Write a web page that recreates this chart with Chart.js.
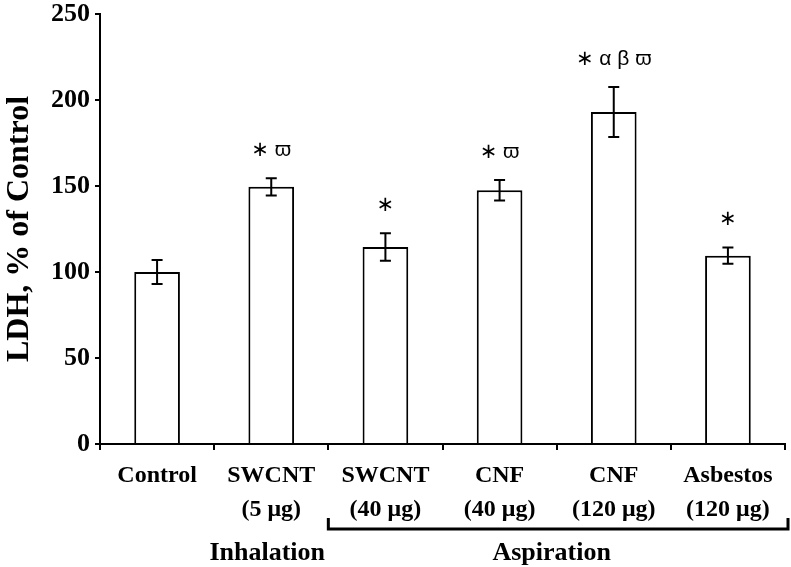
<!DOCTYPE html>
<html>
<head>
<meta charset="utf-8">
<script src="https://cdn.jsdelivr.net/npm/chart.js@4/dist/chart.umd.min.js"></script>
<style>
  html, body { margin: 0; padding: 0; background: #fff; }
  #wrap { width: 791px; height: 567px; }
</style>
</head>
<body>
<div id="wrap"><canvas id="c" width="791" height="567"></canvas></div>
<script>
// ---- data ----
const categories = [
  ["Control"],
  ["SWCNT", "(5 \u03bcg)"],
  ["SWCNT", "(40 \u03bcg)"],
  ["CNF", "(40 \u03bcg)"],
  ["CNF", "(120 \u03bcg)"],
  ["Asbestos", "(120 \u03bcg)"]
];
const ldhValues = [100, 149.5, 114.5, 147.5, 193, 109.5];
const ldhErrors = [7, 5, 8, 6, 14.5, 4.7];
const significance = ["", "\u2217 \u03d6", "\u2217", "\u2217 \u03d6", "\u2217 \u03b1 \u03b2 \u03d6", "\u2217"];
const yTicks = [0, 50, 100, 150, 200, 250];
const groupLabels = ["Inhalation", "Aspiration"];
const groupRanges = [[1, 1], [2, 5]]; // category index ranges
const yTitle = "LDH, % of Control";

const SERIF = '"Liberation Serif", "Times New Roman", serif';
const SANS = '"Liberation Sans", "DejaVu Sans", sans-serif';

const errorBarPlugin = {
  id: 'errorBars',
  afterDatasetsDraw(chart) {
    const ctx = chart.ctx;
    const y = chart.scales.y;
    const meta = chart.getDatasetMeta(0);
    ctx.save();
    ctx.strokeStyle = '#000';
    ctx.lineWidth = 2;
    meta.data.forEach((bar, i) => {
      const x = bar.x;
      const top = y.getPixelForValue(ldhValues[i] + ldhErrors[i]);
      const bot = y.getPixelForValue(ldhValues[i] - ldhErrors[i]);
      const cap = 5.5;
      ctx.beginPath();
      ctx.moveTo(x, top); ctx.lineTo(x, bot);
      ctx.moveTo(x - cap, top); ctx.lineTo(x + cap, top);
      ctx.moveTo(x - cap, bot); ctx.lineTo(x + cap, bot);
      ctx.stroke();
      if (significance[i]) {
        ctx.fillStyle = '#000';
        ctx.font = '21px ' + SANS;
        ctx.textAlign = 'center';
        ctx.textBaseline = 'middle';
        ctx.fillText(significance[i], x, top - 28);
      }
    });
    ctx.restore();
  }
};

const groupPlugin = {
  id: 'groups',
  afterDraw(chart) {
    const ctx = chart.ctx;
    const xs = chart.scales.x;
    const half = (xs.getPixelForValue(1) - xs.getPixelForValue(0)) / 2;
    ctx.save();
    ctx.fillStyle = '#000';
    ctx.strokeStyle = '#000';
    ctx.font = 'bold 26px ' + SERIF;
    ctx.textAlign = 'center';
    ctx.textBaseline = 'middle';
    groupRanges.forEach((r, gi) => {
      const x0 = xs.getPixelForValue(r[0]);
      const x1 = xs.getPixelForValue(r[1]);
      ctx.fillText(groupLabels[gi], (x0 + x1) / 2 - (gi === 1 ? 5 : 4), 553);
      if (r[1] > r[0]) {
        const left = x0 - half, right = x1 + half + 3;
        ctx.lineWidth = 3;
        ctx.beginPath();
        ctx.moveTo(left, 518);
        ctx.lineTo(left, 529);
        ctx.lineTo(right, 529);
        ctx.lineTo(right, 518);
        ctx.stroke();
      }
    });
    ctx.restore();
  }
};

new Chart(document.getElementById('c'), {
  type: 'bar',
  data: {
    labels: categories,
    datasets: [{
      data: ldhValues,
      backgroundColor: '#ffffff',
      borderColor: '#000000',
      borderWidth: 2,
      borderSkipped: 'bottom',
      barPercentage: 0.4,
      categoryPercentage: 1.0
    }]
  },
  options: {
    responsive: false,
    animation: false,
    devicePixelRatio: 1,
    layout: { padding: { top: 14, right: 6, left: 0, bottom: 0 } },
    plugins: { legend: { display: false }, tooltip: { enabled: false } },
    scales: {
      x: {
        offset: true,
        grid: { display: true, offset: true, drawOnChartArea: false, drawTicks: true, tickLength: 6, color: '#000', lineWidth: 2 },
        border: { display: true, color: '#000', width: 2 },
        ticks: {
          color: '#000',
          padding: 9,
          maxRotation: 0,
          autoSkip: false,
          font: { family: SERIF, size: 24, weight: 'bold', lineHeight: 1.4 }
        },
        afterFit(scale) { scale.height = 123; scale.paddingLeft = 0; scale.paddingRight = 0; }
      },
      y: {
        min: 0, max: 250,
        afterBuildTicks(scale) { scale.ticks = yTicks.map(v => ({ value: v })); },
        grid: { display: true, drawOnChartArea: false, drawTicks: true, tickLength: 5, color: '#000', lineWidth: 2 },
        border: { display: true, color: '#000', width: 2 },
        ticks: {
          color: '#000',
          padding: 5,
          font: { family: SERIF, size: 26, weight: 'bold' }
        },
        title: {
          display: true,
          text: yTitle,
          color: '#000',
          padding: { top: 1, bottom: 0 },
          font: { family: SERIF, size: 32, weight: 'bold' }
        },
        afterFit(scale) { scale.width = 100; scale.paddingTop = 0; scale.paddingBottom = 0; }
      }
    }
  },
  plugins: [errorBarPlugin, groupPlugin]
});
</script>
</body>
</html>
